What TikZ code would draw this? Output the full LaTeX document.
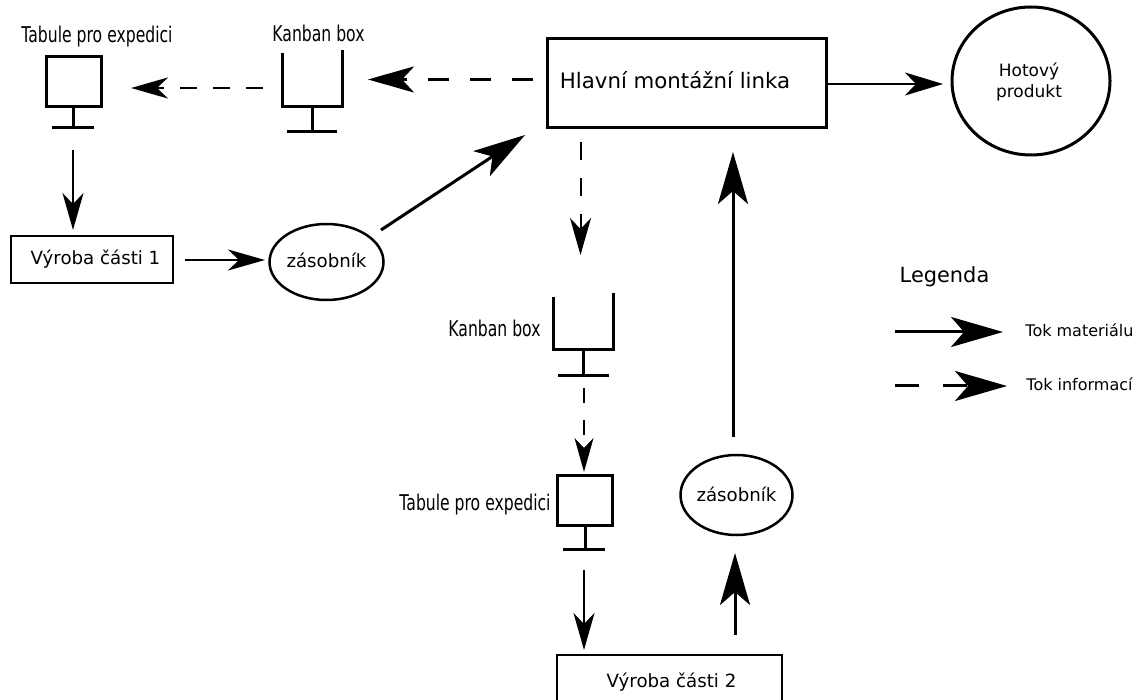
\documentclass[tikz,border=0pt]{standalone}
\usepackage{fontspec}
\setmainfont{DejaVu Sans}
\newfontfamily\condf[FakeStretch=0.72]{DejaVu Sans}
\usetikzlibrary{arrows.meta,shapes.geometric}
\tikzset{
 box/.style={draw=black,rectangle,inner sep=0pt,fill=none},
 blob/.style={draw=black,ellipse,inner sep=0pt,line width=2.5pt},
 flow/.style={draw=black,line width=#1},
 flow/.default=2pt,
 lbl/.style={inner sep=0pt,text=black,anchor=base},
 cond/.style={lbl,font=\condf\fontsize{21.7}{25}\selectfont},
 sans/.style={lbl,font=\fontsize{18.2}{22}\selectfont},
 bar/.style={draw=black,line width=3pt},
 hdS/.style={-{Stealth[length=37pt,width=21pt,inset=11pt]}},
 hdM/.style={-{Stealth[length=46pt,width=26pt,inset=12pt]}},
 hdL/.style={-{Stealth[length=52pt,width=30pt,inset=13pt]}},
}
\begin{document}
\begin{tikzpicture}[x=1pt,y=-1pt]
\useasboundingbox (0,0) rectangle (1143,700);
% main boxes
\node[box,line width=3pt,minimum width=279pt,minimum height=89pt] (main) at (687,83.5) {};
\node[lbl,font=\fontsize{21.3}{25}\selectfont] (mainT) at (675,89) {Hlavní montážní linka};
\node[draw=black,ellipse,line width=3pt,minimum width=158pt,minimum height=148pt,inner sep=0pt] (prod) at (1031,81) {};
\node[lbl,anchor=center,font=\fontsize{17}{21}\selectfont,align=center] (prodT) at (1029,82) {Hotový\\produkt};
\node[box,line width=1.5pt,minimum width=162pt,minimum height=47pt] (v1) at (92,259.5) {};
\node[sans] (v1T) at (95.5,265) {Výroba části 1};
\node[box,line width=1.5pt,minimum width=225pt,minimum height=50pt] (v2) at (669.5,680) {};
\node[sans] (v2T) at (671.5,687) {Výroba části 2};
\node[blob,minimum width=114pt,minimum height=76pt] (z1) at (326.5,262) {};
\node[sans] (z1T) at (326.5,268) {zásobník};
\node[blob,minimum width=112pt,minimum height=80pt] (z2) at (736.5,495) {};
\node[sans] (z2T) at (736.5,501) {zásobník};
% display boards
\node[box,line width=3pt,minimum width=55pt,minimum height=50pt] (t1) at (73.5,82) {};
\coordinate (t1s) at (73.5,128);
\draw[bar] (t1.south -| t1s) -- (t1s);
\draw[bar] (52,128) -- (94,128);
\node[cond] (t1T) at (97,43) {Tabule pro expedici};
\node[box,line width=3pt,minimum width=55pt,minimum height=50pt,anchor=south] (t2) at (585,527) {};
\coordinate (t2s) at (585,549);
\draw[bar] (t2.south -| t2s) -- (t2s);
\draw[bar] (563,549) -- (605,549);
\node[cond] (t2T) at (475,510) {Tabule pro expedici};
% kanban boxes
\draw[bar] (282,53) -- (282,107) -- (342,107) -- (342,50);
\draw[bar] (312,107) -- (312,132);
\draw[bar] (287,132) -- (337,132);
\node[cond] (k1T) at (318.5,42) {Kanban box};
\draw[bar] (553,297) -- (553,350) -- (613,350) -- (613,293);
\draw[bar] (583.5,350) -- (583.5,376);
\draw[bar] (558,376) -- (609,376);
\node[cond] (k2T) at (494.5,337) {Kanban box};
% connector ends
\coordinate (a1) at (263,88);   \coordinate (a2) at (131,88);
\coordinate (b1) at (533,79.5); \coordinate (b2) at (368,79.5);
\coordinate (c1) at (main.east |- 0,84); \coordinate (c2) at (943,84);
\coordinate (d1) at (381,230);  \coordinate (d2) at (525,135);
\coordinate (e1) at (73,150);   \coordinate (e2) at (73,230);
\coordinate (f1) at (185,260);  \coordinate (f2) at (265,260);
\coordinate (g1) at (580.5,142);\coordinate (g2) at (580.5,255);
\coordinate (h1) at (733,437);  \coordinate (h2) at (733,152);
\coordinate (i1) at (584,388);  \coordinate (i2) at (584,472);
\coordinate (j1) at (584,570);  \coordinate (j2) at (584,650);
\coordinate (k1) at (735,635);  \coordinate (k2) at (735,553);
% flows
\draw[flow=2pt,hdS,dash pattern=on 17pt off 16pt] (a1) -- (a2);
\draw[flow=3pt,hdM,dash pattern=on 21pt off 21pt] (b1) -- (b2);
\draw[flow=2.5pt,-{Stealth[length=38pt,width=23pt,inset=11pt]}] (c1) -- (c2);
\draw[flow=3pt,hdL] (d1) -- (d2);
\draw[flow=2pt,hdS] (e1) -- (e2);
\draw[flow=2pt,hdS] (f1) -- (f2);
\draw[flow=2pt,hdS,dash pattern=on 18pt off 18pt] (g1) -- (g2);
\draw[flow=3pt,hdL] (h1) -- (h2);
\draw[flow=2pt,dash pattern=on 15pt off 17pt,-{Stealth[length=34pt,width=19pt,inset=10pt]}] (i1) -- (i2);
\draw[flow=2pt,hdS] (j1) -- (j2);
\draw[flow=3pt,hdL] (k1) -- (k2);
% legend
\node[lbl,font=\fontsize{20.9}{25}\selectfont] (leg) at (944.5,283) {Legenda};
\coordinate (l1) at (895,332); \coordinate (l2) at (1003,332);
\coordinate (m1) at (895,386); \coordinate (m2) at (1007,386);
\draw[flow=3pt,hdL] (l1) -- (l2);
\draw[flow=3pt,hdL,dash pattern=on 24pt off 24pt] (m1) -- (m2);
\node[lbl,font=\fontsize{16}{19}\selectfont] (lmT) at (1079.5,337) {Tok materiálu};
\node[lbl,font=\fontsize{16}{19}\selectfont] (liT) at (1079.5,390.5) {Tok informací};
\end{tikzpicture}
\end{document}
